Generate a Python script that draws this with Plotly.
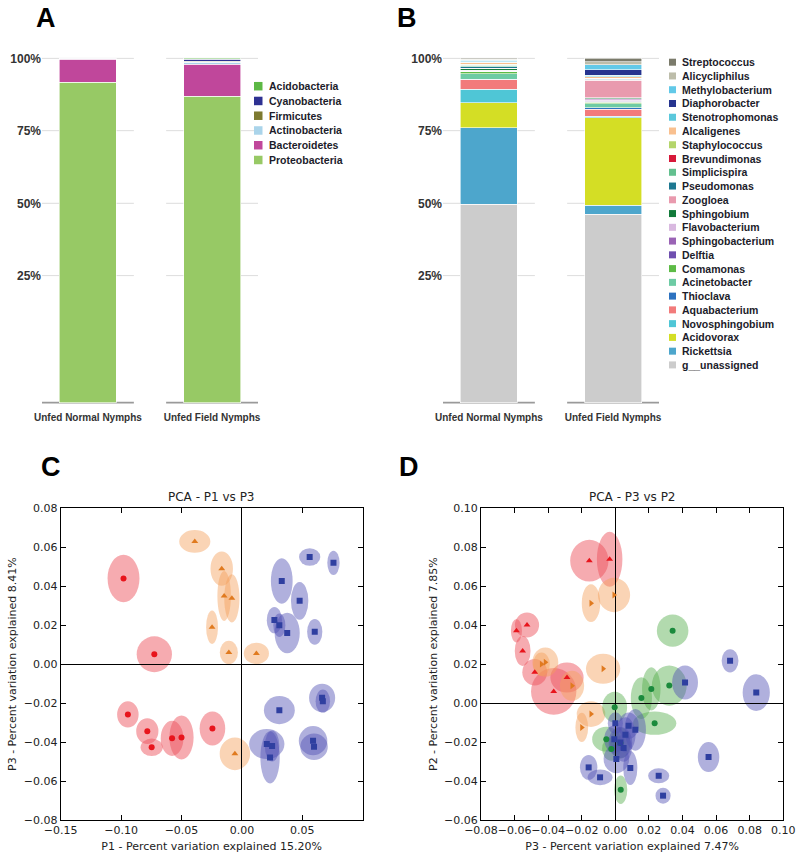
import plotly.graph_objects as go

W, H = 800, 859

# ---------------- Panel A: phyla ----------------
groups = ["Unfed Normal Nymphs", "Unfed Field Nymphs"]
phyla = ["Acidobacteria", "Cyanobacteria", "Firmicutes", "Actinobacteria",
         "Bacteroidetes", "Proteobacteria"]
phyla_colors = ["#5cb845", "#2e3192", "#7d7a30", "#aad4ea", "#c0479b", "#97c965"]
phyla_normal = [0.03, 0.02, 0.05, 0.10, 6.80, 93.00]
phyla_field = [0.30, 0.60, 0.20, 0.60, 9.30, 89.00]

# ---------------- Panel B: genera ----------------
genera = ["Streptococcus", "Alicycliphilus", "Methylobacterium", "Diaphorobacter",
          "Stenotrophomonas", "Alcaligenes", "Staphylococcus", "Brevundimonas",
          "Simplicispira", "Pseudomonas", "Zoogloea", "Sphingobium",
          "Flavobacterium", "Sphingobacterium", "Delftia", "Comamonas",
          "Acinetobacter", "Thioclava", "Aquabacterium", "Novosphingobium",
          "Acidovorax", "Rickettsia", "g__unassigned"]
genus_colors = ["#7b7b6b", "#bdbdaa", "#62c9e8", "#26348f", "#5bc8dc", "#f9c08f",
                "#b4d56b", "#d7193a", "#63c08f", "#1e7891", "#e99aae", "#127a3a",
                "#d9b9e0", "#9a63b5", "#6f4faf", "#5dbb46", "#6dcba4", "#2d72c0",
                "#f27b7b", "#4fc6d6", "#d4de25", "#4da6cc", "#cccccc"]
genus_normal = [0.2, 0.4, 0.4, 0.1, 0.2, 0.4, 0.2, 0.1, 0.5, 0.3, 0.2, 0.4,
                0.3, 0.1, 0.1, 0.5, 1.6, 0.2, 2.8, 3.9, 7.2, 22.3, 57.6]
genus_field = [1.0, 0.8, 1.5, 1.6, 0.4, 0.4, 0.1, 0.1, 0.2, 0.3, 5.0, 0.3,
               0.5, 0.3, 0.2, 0.5, 1.2, 0.4, 2.0, 0.5, 25.4, 2.6, 54.7]

bar_tick_vals = [36.9, 57.9, 79.0, 100.0]
bar_tick_text = ["25%", "50%", "75%", "100%"]

# ---------------- Panel C: PCA P1 vs P3 ----------------
c_red_x = [-0.098, -0.0725, -0.0944, -0.0783, -0.0747, -0.0578, -0.050, -0.0244]
c_red_y = [0.044, 0.0051, -0.0258, -0.0344, -0.0427, -0.0381, -0.0376, -0.033]
c_red_rx = [0.0132, 0.0146, 0.0089, 0.0092, 0.0092, 0.0094, 0.0100, 0.0106]
c_red_ry = [0.0122, 0.0092, 0.0067, 0.0066, 0.0045, 0.0090, 0.0113, 0.0087]

c_orange_x = [-0.039, -0.0167, -0.0147, -0.0083, -0.0247, -0.0108, 0.012, -0.0058]
c_orange_y = [0.063, 0.049, 0.035, 0.0338, 0.019, 0.006, 0.0055, -0.046]
c_orange_rx = [0.0129, 0.0093, 0.0056, 0.0063, 0.0049, 0.0075, 0.0104, 0.0126]
c_orange_ry = [0.0058, 0.0088, 0.0128, 0.0124, 0.0086, 0.0060, 0.0055, 0.0084]

c_blue_x = [0.0561, 0.0758, 0.033, 0.0478, 0.0269, 0.031, 0.0375, 0.0603, 0.031,
            0.0664, 0.067, 0.0589, 0.0597, 0.0206, 0.0233, 0.025]
c_blue_y = [0.055, 0.052, 0.0427, 0.0325, 0.0226, 0.020, 0.016, 0.0166, -0.0236,
            -0.0173, -0.019, -0.0393, -0.0424, -0.041, -0.0479, -0.042]
c_blue_rx = [0.0088, 0.0051, 0.009, 0.0072, 0.0063, 0.005, 0.0104, 0.0063, 0.0128,
             0.0108, 0.006, 0.0118, 0.0114, 0.0146, 0.008, 0.006]
c_blue_ry = [0.0045, 0.0062, 0.0117, 0.0097, 0.0068, 0.006, 0.0104, 0.0066, 0.0072,
             0.0073, 0.006, 0.0075, 0.0068, 0.0077, 0.0134, 0.008]

# ---------------- Panel D: PCA P3 vs P2 ----------------
d_red_x = [-0.0155, -0.0034, -0.0526, -0.0589, -0.0552, -0.048, -0.0288, -0.0367]
d_red_y = [0.0731, 0.0738, 0.0401, 0.0371, 0.0268, 0.0159, 0.0131, 0.006]
d_red_rx = [0.0114, 0.0076, 0.0072, 0.0033, 0.0047, 0.0074, 0.0099, 0.0135]
d_red_ry = [0.0107, 0.0141, 0.0064, 0.006, 0.0077, 0.0068, 0.0077, 0.012]

d_orange_x = [-0.0008, -0.0145, -0.0073, -0.0417, -0.044, -0.0258, -0.0145, -0.020]
d_orange_y = [0.0555, 0.0513, 0.0176, 0.021, 0.020, 0.0089, -0.0056, -0.0125]
d_orange_rx = [0.0096, 0.0055, 0.0102, 0.0077, 0.005, 0.0072, 0.0085, 0.0038]
d_orange_ry = [0.0088, 0.0097, 0.0077, 0.0075, 0.006, 0.0077, 0.0066, 0.0075]

d_green_x = [0.0341, 0.0321, 0.0214, 0.0155, 0.0234, -0.0004, -0.0054, -0.0024, 0.0032, 0.003]
d_green_y = [0.0372, 0.009, 0.0073, 0.0026, -0.0103, -0.0021, -0.0185, -0.0236, -0.0445, -0.0205]
d_green_rx = [0.0094, 0.0104, 0.0055, 0.0063, 0.0129, 0.0074, 0.0084, 0.0055, 0.0039, 0.006]
d_green_ry = [0.0083, 0.0103, 0.0111, 0.0107, 0.006, 0.0079, 0.0064, 0.006, 0.0073, 0.008]

d_blue_x = [0.0683, 0.0415, 0.0839, 0.0555, 0.0258, 0.0284, -0.0159, -0.0091, 0.0006,
            0.0089, 0.0, 0.0079, 0.0119, 0.006, 0.003, 0.0049, -0.0006]
d_blue_y = [0.0217, 0.0106, 0.0054, -0.0277, -0.0373, -0.0475, -0.033, -0.0381, -0.0287,
            -0.0333, -0.0103, -0.0116, -0.0137, -0.0163, -0.0202, -0.0231, -0.0185]
d_blue_rx = [0.005, 0.0077, 0.0081, 0.0064, 0.0063, 0.0045, 0.0052, 0.0074, 0.0076,
             0.0042, 0.0045, 0.006, 0.0063, 0.006, 0.007, 0.005, 0.006]
d_blue_ry = [0.006, 0.0087, 0.0094, 0.0077, 0.0038, 0.0041, 0.0064, 0.004, 0.0073,
             0.0087, 0.0056, 0.0068, 0.0107, 0.009, 0.008, 0.007, 0.007]

RED_M, RED_F = "#e8141c", "rgba(236,80,90,0.48)"
ORA_M, ORA_F = "#e07a1f", "rgba(245,160,90,0.45)"
BLU_M, BLU_F = "#2f3fa0", "rgba(80,80,180,0.45)"
GRN_M, GRN_F = "#1b8a3c", "rgba(85,172,75,0.45)"

def px(x):
    return x / W

def py(y):
    return 1 - y / H

fig = go.Figure()
shapes = []
annotations = []

# ---- stacked bars ----
for name, col, vn, vf in reversed(list(zip(phyla, phyla_colors, phyla_normal, phyla_field))):
    fig.add_trace(go.Bar(x=groups, y=[vn, vf], name=name, marker_color=col,
                         marker_line_color="white", marker_line_width=0.6,
                         width=0.46, xaxis="x", yaxis="y", showlegend=False))
for name, col, vn, vf in reversed(list(zip(genera, genus_colors, genus_normal, genus_field))):
    fig.add_trace(go.Bar(x=groups, y=[vn, vf], name=name, marker_color=col,
                         marker_line_color="white", marker_line_width=0.6,
                         width=0.46, xaxis="x2", yaxis="y2", showlegend=False))

# bar-chart gridline segments per category band
for xr, yr in (("x", "y"), ("x2", "y2")):
    for i in range(len(groups)):
        for t in [0] + bar_tick_vals:
            shapes.append(dict(type="line", xref=xr, yref=yr, x0=i - 0.37, x1=i + 0.37,
                               y0=t, y1=t, layer="below",
                               line=dict(color="#9a9a9a" if t == 0 else "#dddddd",
                                         width=1.6 if t == 0 else 1)))

# manual legends
def add_legend(names, colors, x_sw, y0, step, sw):
    for k, (n, c) in enumerate(zip(names, colors)):
        yc = y0 + k * step
        shapes.append(dict(type="rect", xref="paper", yref="paper",
                           x0=px(x_sw), x1=px(x_sw + sw), y0=py(yc + sw / 2), y1=py(yc - sw / 2),
                           fillcolor=c, line=dict(width=0)))
        annotations.append(dict(xref="paper", yref="paper", x=px(x_sw + sw + 4), y=py(yc),
                                xanchor="left", yanchor="middle", showarrow=False,
                                text="<b>%s</b>" % n,
                                font=dict(family="Liberation Sans", size=10.5, color="#1c1c2a")))

add_legend(phyla, phyla_colors, 254, 86.2, 14.76, 8.5)
add_legend(genera, genus_colors, 669, 62.2, 13.76, 7)

# ---- PCA ellipses and points ----
def add_group(xs, ys, rxs, rys, mcol, fcol, symbol, xr, yr):
    for cx, cy, rx, ry in zip(xs, ys, rxs, rys):
        shapes.append(dict(type="circle", xref=xr, yref=yr, x0=cx - rx, x1=cx + rx,
                           y0=cy - ry, y1=cy + ry, fillcolor=fcol, line=dict(width=0),
                           layer="below"))
    fig.add_trace(go.Scatter(x=xs, y=ys, mode="markers", xaxis=xr, yaxis=yr,
                             marker=dict(symbol=symbol, size=6, color=mcol, line=dict(width=0)),
                             showlegend=False))

add_group(c_red_x, c_red_y, c_red_rx, c_red_ry, RED_M, RED_F, "circle", "x3", "y3")
add_group(c_orange_x, c_orange_y, c_orange_rx, c_orange_ry, ORA_M, ORA_F, "triangle-up", "x3", "y3")
add_group(c_blue_x, c_blue_y, c_blue_rx, c_blue_ry, BLU_M, BLU_F, "square", "x3", "y3")

add_group(d_red_x, d_red_y, d_red_rx, d_red_ry, RED_M, RED_F, "triangle-up", "x4", "y4")
add_group(d_orange_x, d_orange_y, d_orange_rx, d_orange_ry, ORA_M, ORA_F, "triangle-right", "x4", "y4")
add_group(d_green_x, d_green_y, d_green_rx, d_green_ry, GRN_M, GRN_F, "circle", "x4", "y4")
add_group(d_blue_x, d_blue_y, d_blue_rx, d_blue_ry, BLU_M, BLU_F, "square", "x4", "y4")

# ---- titles / panel letters ----
for letter, x, y in (("A", 45.5, 17.8), ("B", 407, 17.8), ("C", 51, 467), ("D", 409, 467)):
    annotations.append(dict(xref="paper", yref="paper", x=px(x), y=py(y), text="<b>%s</b>" % letter,
                            showarrow=False, xanchor="center", yanchor="middle",
                            font=dict(family="Liberation Sans", size=27, color="#000")))
for t, x in (("PCA - P1 vs P3", 211.7), ("PCA - P3 vs P2", 632)):
    annotations.append(dict(xref="paper", yref="paper", x=px(x), y=py(497), text=t,
                            showarrow=False, xanchor="center", yanchor="middle",
                            font=dict(family="DejaVu Sans", size=12, color="#222")))

bar_x = dict(type="category", range=[-0.37, 1.37], showgrid=False, zeroline=False,
             showline=False, ticks="outside", ticklen=4, tickcolor="rgba(0,0,0,0)",
             automargin=False,
             tickfont=dict(family="Liberation Sans", size=10, weight="bold", color="#333"))
bar_y = dict(range=[-0.4, 100.4], tickvals=bar_tick_vals, ticktext=bar_tick_text,
             showgrid=False, zeroline=False, showline=False, ticks="", automargin=False,
             tickfont=dict(family="Liberation Sans", size=12, weight="bold", color="#333"),
             domain=[py(404), py(57)])

tickf = dict(family="DejaVu Sans", size=11, color="#222")
titf = dict(family="DejaVu Sans", size=11, color="#222")
def pca_ax(**kw):
    d = dict(ticks="inside", ticklen=5, tickcolor="black", showline=True, linecolor="black",
             linewidth=1, mirror="ticks", zeroline=True, zerolinecolor="black",
             zerolinewidth=1, showgrid=False, tickformat=".2f", tickfont=tickf,
             automargin=False, tickangle=0)
    d.update(kw)
    return d

fig.update_layout(
    width=W, height=H, margin=dict(l=0, r=0, t=0, b=0, autoexpand=False),
    paper_bgcolor="white", plot_bgcolor="white", barmode="stack",
    xaxis=dict(bar_x, domain=[px(42), px(258)], anchor="y"),
    yaxis=dict(bar_y, anchor="x"),
    xaxis2=dict(bar_x, domain=[px(443), px(659)], anchor="y2"),
    yaxis2=dict(bar_y, anchor="x2"),
    xaxis3=pca_ax(domain=[px(60.7), px(362.7)], anchor="y3", range=[-0.15, 0.10],
                  tickvals=[-0.15, -0.10, -0.05, 0.0, 0.05],
                  title=dict(text="P1 - Percent variation explained 15.20%", font=titf, standoff=6)),
    yaxis3=pca_ax(domain=[py(820), py(508.3)], anchor="x3", range=[-0.08, 0.08], dtick=0.02,
                  title=dict(text="P3 - Percent variation explained 8.41%", font=titf, standoff=4)),
    xaxis4=pca_ax(domain=[px(481), px(783.3)], anchor="y4", range=[-0.08, 0.10], dtick=0.02,
                  title=dict(text="P3 - Percent variation explained 7.47%", font=titf, standoff=6)),
    yaxis4=pca_ax(domain=[py(820), py(508.3)], anchor="x4", range=[-0.06, 0.10], dtick=0.02,
                  title=dict(text="P2 - Percent variation explained 7.85%", font=titf, standoff=4)),
    shapes=shapes, annotations=annotations,
)

fig.write_html("out.html", config={"displayModeBar": False},
               post_script="document.body.style.margin='0px';")
